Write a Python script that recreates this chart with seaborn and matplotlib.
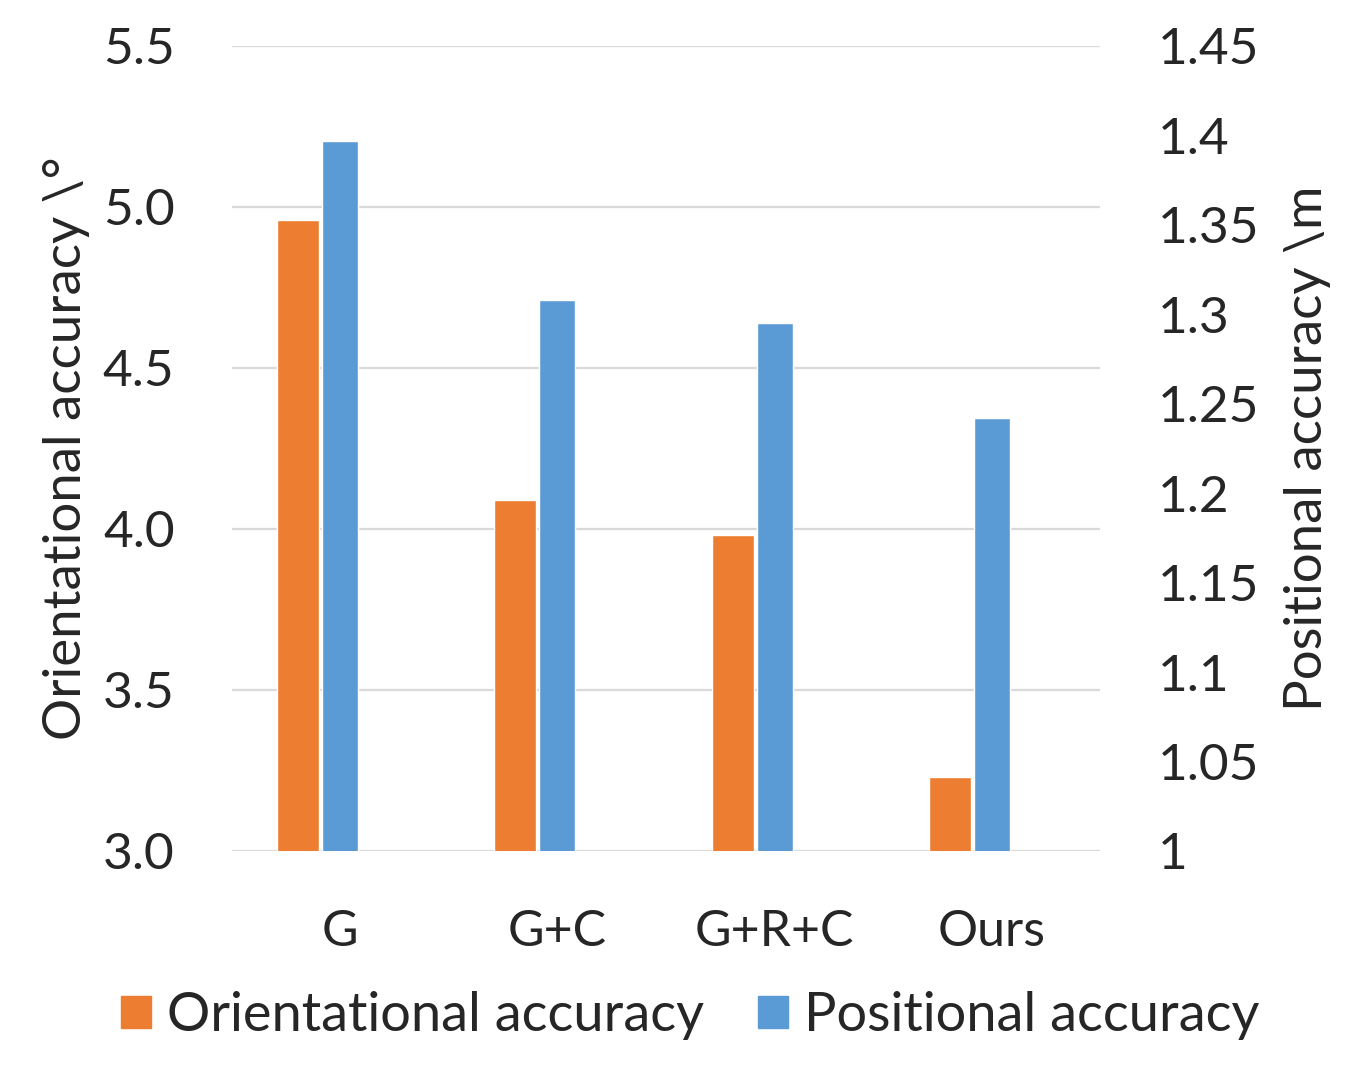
import matplotlib
matplotlib.use("Agg")
import matplotlib.pyplot as plt
import matplotlib.patches as mpatches
import numpy as np
import seaborn as sns

# values
methods = ["G", "G+C", "G+R+C", "Ours"]
orientational = [4.96, 4.09, 3.98, 3.23]   # degrees, left axis
positional = [1.397, 1.308, 1.295, 1.242]  # metres, right axis

left_ticks = [3.0, 3.5, 4.0, 4.5, 5.0, 5.5]
right_ticks = [1.0, 1.05, 1.1, 1.15, 1.2, 1.25, 1.3, 1.35, 1.4, 1.45]
right_labels = ["1", "1.05", "1.1", "1.15", "1.2", "1.25", "1.3", "1.35", "1.4", "1.45"]

ORANGE = "#ED7D31"
BLUE = "#5B9BD5"
GRID = "#D9D9D9"

sns.set_theme(style="white")
plt.rcParams["font.family"] = ["Lato", "DejaVu Sans"]

fig = plt.figure(figsize=(13.62, 10.69), dpi=100)
ax = fig.add_axes([0.170, 0.204, 0.638, 0.753])
ax2 = ax.twinx()

idx = np.arange(len(methods))
w_orange = 0.193
w_blue = 0.166
gap = 0.014
shift = -(w_blue / 2 + gap + w_orange / 2)

sns.barplot(x=idx + shift, y=orientational, native_scale=True, width=w_orange,
            color=ORANGE, saturation=1, errorbar=None, ax=ax)
sns.barplot(x=idx, y=positional, native_scale=True, width=w_blue,
            color=BLUE, saturation=1, errorbar=None, ax=ax2)

ax.set_ylim(3.0, 5.5)
ax.set_yticks(left_ticks, [f"{t:.1f}" for t in left_ticks])
ax2.set_ylim(1.0, 1.45)
ax2.set_yticks(right_ticks, right_labels)
ax.set_xlim(-0.5, len(methods) - 0.5)
ax.set_xticks(idx, methods)

ax.set_axisbelow(True)
ax.yaxis.grid(True, color=GRID, linewidth=1.6)
ax.xaxis.grid(False)
ax2.grid(False)
for a in (ax, ax2):
    for s in a.spines.values():
        s.set_visible(False)
    a.tick_params(length=0)

ax.tick_params(axis="y", labelsize=37, pad=41)
ax2.tick_params(axis="y", labelsize=37, pad=41)
ax.tick_params(axis="x", labelsize=36, pad=42)

ax.set_ylabel("Orientational accuracy \\°", fontsize=38, labelpad=9)
ax2.set_ylabel("Positional accuracy \\m", fontsize=38, labelpad=18)

handles = [mpatches.Patch(color=ORANGE, label="Orientational accuracy"),
           mpatches.Patch(color=BLUE, label="Positional accuracy")]
fig.legend(handles=handles, loc="center", bbox_to_anchor=(0.507, 0.05), ncol=2,
           frameon=False, fontsize=39, handlelength=0.55, handleheight=0.55,
           handletextpad=0.3, columnspacing=1.0)

fig.savefig("out.png", dpi=100)
